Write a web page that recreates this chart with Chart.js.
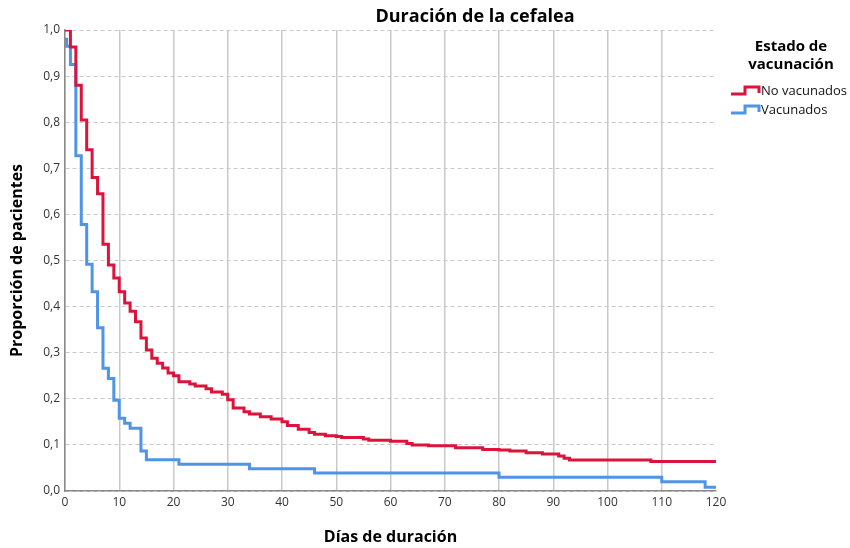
<!DOCTYPE html>
<html>
<head>
<meta charset="utf-8">
<script src="https://cdn.jsdelivr.net/npm/chart.js@4"></script>
<style>
  html, body { margin: 0; padding: 0; background: #fff; }
  #wrap { width: 850px; height: 548px; }
</style>
</head>
<body>
<div id="wrap"><canvas id="chart" width="850" height="548"></canvas></div>
<script>
// Kaplan-Meier style steps: day where the value starts, proportion
const noVacDays = [0, 1, 2, 3, 4, 5, 6, 7, 8, 9, 10, 11, 12, 13, 14, 15, 16, 17, 18, 19, 20, 21, 23, 24, 26, 27, 29, 30, 31, 33, 34, 36, 38, 40, 41, 43, 45, 46, 48, 50, 51, 55, 56, 60, 63, 64, 67, 72, 77, 80, 82, 85, 88, 91, 92, 93, 108, 120];
const noVacSurv = [1.0, 0.963, 0.88, 0.805, 0.74, 0.68, 0.645, 0.535, 0.49, 0.462, 0.432, 0.408, 0.39, 0.367, 0.332, 0.306, 0.288, 0.277, 0.267, 0.256, 0.25, 0.237, 0.232, 0.228, 0.222, 0.215, 0.21, 0.198, 0.18, 0.172, 0.167, 0.161, 0.156, 0.15, 0.142, 0.134, 0.127, 0.123, 0.12, 0.118, 0.116, 0.113, 0.11, 0.108, 0.103, 0.1, 0.098, 0.094, 0.09, 0.089, 0.087, 0.083, 0.08, 0.076, 0.071, 0.067, 0.064, 0.064];

const vacDays = [0, 0.3, 1, 2, 3, 4, 5, 6, 7, 8, 9, 10, 11, 12, 14, 15, 21, 34, 46, 80, 110, 118, 120];
const vacSurv = [0.98, 0.965, 0.925, 0.727, 0.578, 0.492, 0.432, 0.354, 0.266, 0.244, 0.197, 0.158, 0.147, 0.136, 0.087, 0.068, 0.058, 0.048, 0.039, 0.03, 0.02, 0.008, 0.008];

const seriesNames = ["No vacunados", "Vacunados"];
const xTicks = [0, 10, 20, 30, 40, 50, 60, 70, 80, 90, 100, 110, 120];

const RED = "#dc143c";
const BLUE = "#4f94e6";
const FONT = "'Open Sans', 'Noto Sans', sans-serif";

function toPoints(days, vals) {
    return days.map((d, i) => ({ x: d, y: vals[i] }));
}

// title and the step-icon legend on the right
const extras = {
    id: "extras",
    afterDraw(chart) {
        const ctx = chart.ctx;
        ctx.save();
        ctx.fillStyle = "#000";
        ctx.textAlign = "center";
        ctx.textBaseline = "middle";
        ctx.font = "bold 18px " + FONT;
        ctx.fillText("Duración de la cefalea", 475, 17);

        ctx.font = "bold 15px " + FONT;
        ctx.fillText("Estado de", 791, 47);
        ctx.fillText("vacunación", 791, 65);

        const colors = [RED, BLUE];
        ctx.font = "13px " + FONT;
        ctx.textAlign = "left";
        seriesNames.forEach((name, i) => {
            const y = 91 + i * 19;
            ctx.strokeStyle = colors[i];
            ctx.lineWidth = 3;
            ctx.beginPath();
            ctx.moveTo(731, y + 3);
            ctx.lineTo(745, y + 3);
            ctx.lineTo(745, y - 4);
            ctx.lineTo(759, y - 4);
            ctx.lineTo(759, y + 2);
            ctx.stroke();
            ctx.fillStyle = "#111";
            ctx.fillText(name, 761, y);
        });
        ctx.restore();
    }
};

const ctx = document.getElementById("chart").getContext("2d");
new Chart(ctx, {
    type: "line",
    data: {
        datasets: [
            {
                label: seriesNames[0],
                data: toPoints(noVacDays, noVacSurv),
                borderColor: RED,
                borderWidth: 3,
                stepped: true,
                pointRadius: 0,
                fill: false
            },
            {
                label: seriesNames[1],
                data: toPoints(vacDays, vacSurv),
                borderColor: BLUE,
                borderWidth: 3,
                stepped: true,
                pointRadius: 0,
                fill: false
            }
        ]
    },
    options: {
        responsive: false,
        animation: false,
        layout: { padding: { top: 30, right: 134, left: 0, bottom: 0 } },
        plugins: {
            legend: { display: false },
            tooltip: { enabled: false }
        },
        scales: {
            x: {
                type: "linear",
                min: 0,
                max: 120,
                afterFit: s => { s.height = 57; },
                afterBuildTicks: s => { s.ticks = xTicks.map(v => ({ value: v })); },
                ticks: {
                    color: "#333",
                    font: { family: FONT, size: 12 },
                    padding: 4,
                    maxRotation: 0
                },
                grid: {
                    drawTicks: false,
                    color: c => (c.tick && c.tick.value === 120 ? "rgba(0,0,0,0)" : "#c9c9c9"),
                    lineWidth: 1.5
                },
                border: { color: "#8a8a8a", width: 1.5 },
                title: {
                    display: true,
                    text: "Días de duración",
                    color: "#000",
                    font: { family: FONT, size: 16, weight: "bold" },
                    padding: { top: 0, bottom: 1 }
                }
            },
            y: {
                min: 0,
                max: 1,
                afterFit: s => { s.width = 65; },
                ticks: {
                    stepSize: 0.1,
                    color: "#333",
                    font: { family: FONT, size: 12 },
                    padding: 5,
                    callback: v => v.toFixed(1).replace(".", ",")
                },
                grid: {
                    drawTicks: false,
                    color: "#c9c9c9",
                    lineWidth: 1
                },
                border: { color: "#8a8a8a", width: 1.5, dash: [4, 3] },
                title: {
                    display: true,
                    text: "Proporción de pacientes",
                    color: "#000",
                    font: { family: FONT, size: 16, weight: "bold" },
                    padding: { top: 8, bottom: 0 }
                }
            }
        }
    },
    plugins: [extras]
});
</script>
</body>
</html>
